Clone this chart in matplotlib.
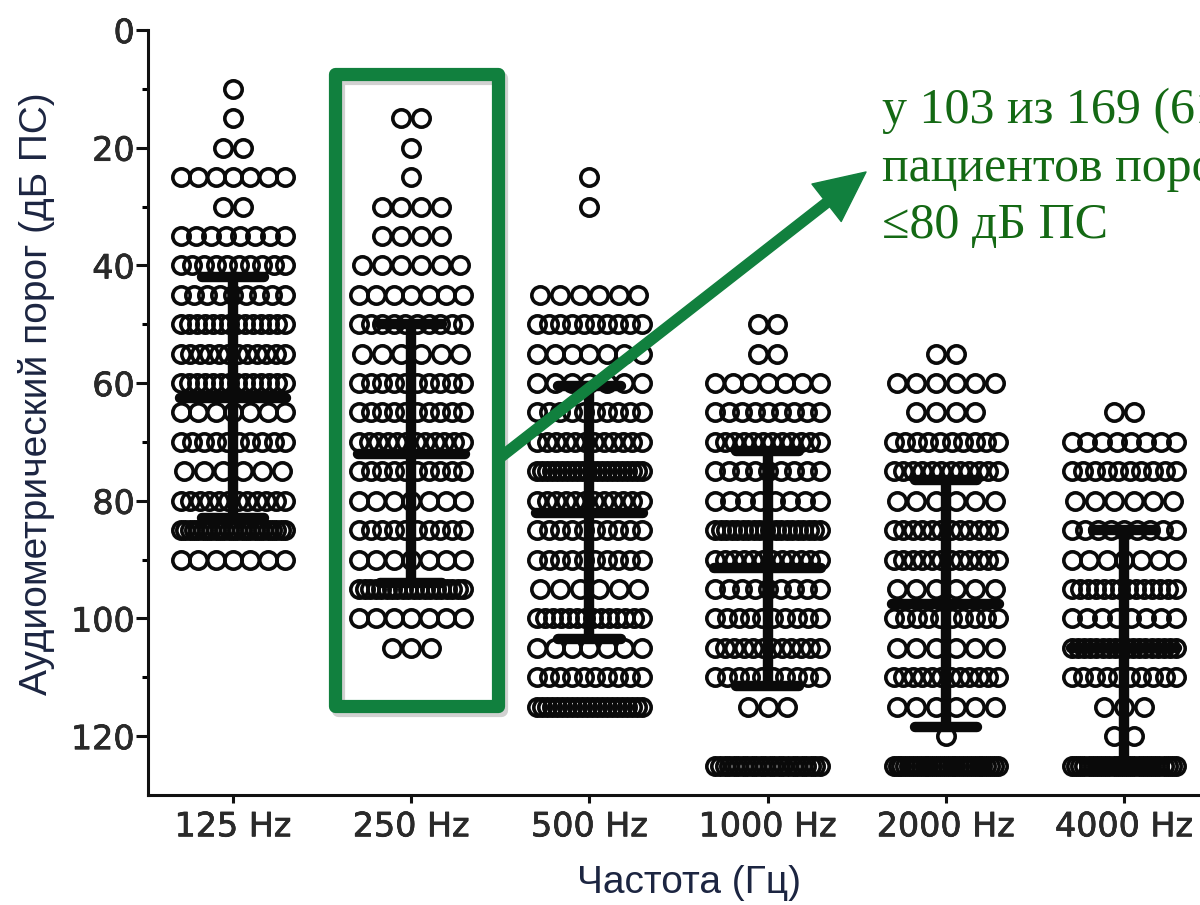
import numpy as np
import matplotlib
matplotlib.use('Agg')
import matplotlib.pyplot as plt
from matplotlib.patches import Rectangle, FancyArrowPatch
import matplotlib.patheffects as pe

# ---------------- data ----------------
freq_labels = ['125 Hz', '250 Hz', '500 Hz', '1000 Hz', '2000 Hz', '4000 Hz']

levels_125 = [10, 15, 20, 25, 30, 35, 40, 45, 50, 55, 60, 65, 70, 75, 80, 85, 90]
counts_125 = [1, 1, 2, 7, 2, 8, 10, 9, 14, 12, 14, 7, 10, 6, 12, 25, 7]

levels_250 = [15, 20, 25, 30, 35, 40, 45, 50, 55, 60, 65, 70, 75, 80, 85, 90, 95, 100, 105]
counts_250 = [2, 1, 1, 4, 4, 6, 7, 10, 6, 10, 10, 12, 10, 7, 10, 7, 20, 7, 3]

levels_500 = [25, 30, 45, 50, 55, 60, 65, 70, 75, 80, 85, 90, 95, 100, 105, 110, 115]
counts_500 = [1, 1, 6, 10, 7, 7, 10, 12, 22, 12, 10, 10, 6, 14, 7, 10, 22]

levels_1000 = [50, 55, 60, 65, 70, 75, 80, 85, 90, 95, 100, 105, 110, 115, 125]
counts_1000 = [2, 2, 7, 9, 12, 9, 8, 20, 12, 9, 10, 12, 10, 3, 24]

levels_2000 = [55, 60, 65, 70, 75, 80, 85, 90, 95, 100, 105, 110, 115, 120, 125]
counts_2000 = [2, 6, 4, 10, 12, 6, 12, 12, 6, 10, 6, 12, 6, 1, 28]

levels_4000 = [65, 70, 75, 80, 85, 90, 95, 100, 105, 110, 115, 120, 125]
counts_4000 = [2, 8, 10, 6, 9, 7, 14, 8, 18, 10, 3, 2, 26]

means = [62.5, 72.0, 82.0, 91.5, 97.5, 105.0]
sds = [20.5, 22.0, 21.5, 20.0, 21.0, 20.0]

all_levels = [levels_125, levels_250, levels_500, levels_1000, levels_2000, levels_4000]
all_counts = [counts_125, counts_250, counts_500, counts_1000, counts_2000, counts_4000]

y_label = 'Аудиометрический порог (дБ ПС)'
x_label = 'Частота (Гц)'
note_lines = ['у 103 из 169 (61%)', 'пациентов порог', '≤80 дБ ПС']

# ---------------- figure ----------------
W, H = 1200, 905
fig = plt.figure(figsize=(W / 100, H / 100), dpi=100)
fig.patch.set_facecolor('white')

ax = fig.add_axes([148 / W, 1 - 795 / H, 1 - 148 / W, (795 - 30) / H])
ax.set_xlim(-0.477, (1200 - 233) / 178.2)
ax.set_ylim(130, 0)

ink = '#0a0a0a'
for i, (lv, ct) in enumerate(zip(all_levels, all_counts)):
    for v, n in zip(lv, ct):
        step = 0.11 if n <= 1 else min(0.11, 0.585 / (n - 1))
        offs = (np.arange(n) - (n - 1) / 2) * step
        ax.plot(i + offs, np.full(n, v), 'o', mfc='none', mec=ink, ms=12.5,
                mew=2.6, zorder=2, clip_on=False)
    m, s = means[i], sds[i]
    ax.plot([i, i], [m - s, m + s], color=ink, lw=7.5, solid_capstyle='butt', zorder=3)
    for yy in (m - s, m + s):
        ax.plot([i - 0.175, i + 0.175], [yy, yy], color=ink, lw=7.5,
                solid_capstyle='round', zorder=3)
    ax.plot([i - 0.30, i + 0.30], [m, m], color=ink, lw=7.5,
            solid_capstyle='round', zorder=3)

for sp in ('top', 'right'):
    ax.spines[sp].set_visible(False)
for sp in ('left', 'bottom'):
    ax.spines[sp].set_linewidth(2.2)
    ax.spines[sp].set_color('#111111')

ax.set_xticks(range(len(freq_labels)))
ax.set_xticklabels(freq_labels)
ax.set_yticks(range(0, 121, 20))
ax.set_yticks(range(10, 120, 20), minor=True)
ax.tick_params(axis='x', length=6, width=2.2, pad=5, labelsize=24, colors='#111111')
ax.tick_params(axis='y', which='major', length=8.5, width=2.2, pad=1,
               labelsize=24, colors='#111111')
ax.tick_params(axis='y', which='minor', length=4.5, width=2.2)
for lab in ax.get_xticklabels() + ax.get_yticklabels():
    lab.set_family('DejaVu Sans')
    lab.set_color('#2a2a2a')
    lab.set_path_effects([pe.withStroke(linewidth=0.5, foreground='#111111')])

lab_color = '#1c2541'
fig.text(37 / W, 1 - 394 / H, y_label, rotation=90, ha='center', va='center',
         fontsize=28, family='Liberation Sans', color=lab_color)
fig.text(689 / W, 1 - 893 / H, x_label, ha='center', va='baseline',
         fontsize=28, family='Liberation Sans', color=lab_color)

# ---------------- overlay annotations (pixel coordinates) ----------------
ov = fig.add_axes([0, 0, 1, 1])
ov.set_xlim(0, W)
ov.set_ylim(H, 0)
ov.axis('off')
ov.patch.set_alpha(0)

green = '#11803e'
rect = Rectangle((335, 74), 498 - 335, 706 - 74, fill=False, lw=9.5, ec=green,
                 joinstyle='round', zorder=5)
rect.set_path_effects([pe.SimpleLineShadow(offset=(2, -3), shadow_color='k', alpha=0.18),
                       pe.Normal()])
ov.add_patch(rect)

arrow = FancyArrowPatch((497, 460), (866, 172),
                        arrowstyle='simple,head_length=1.0,head_width=0.95,tail_width=0.2',
                        mutation_scale=36, color=green, shrinkA=0, shrinkB=0, zorder=5)
ov.add_patch(arrow)

txt_color = '#146914'
for k, line in enumerate(note_lines):
    ov.text(882, 123 + 57.5 * k, line, fontsize=36, family='Liberation Serif',
            color=txt_color, ha='left', va='baseline', clip_on=False)

fig.savefig('out.png', dpi=100)
